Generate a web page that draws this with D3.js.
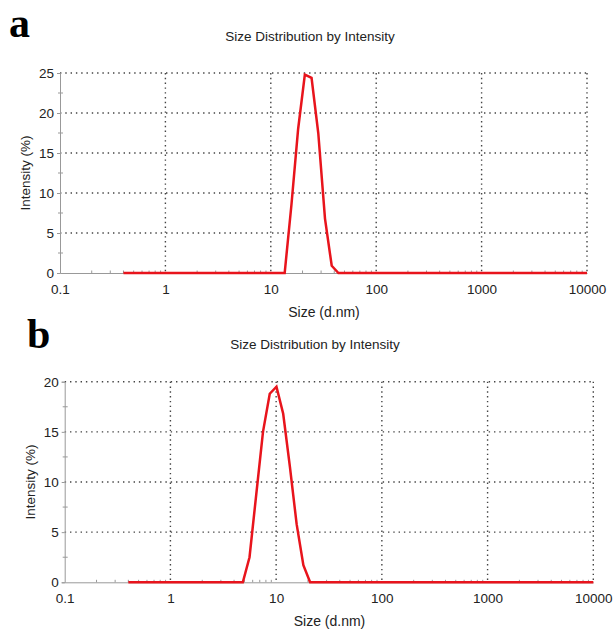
<!DOCTYPE html>
<html>
<head>
<meta charset="utf-8">
<script src="https://cdn.jsdelivr.net/npm/d3@7"></script>
<style>
  body { margin: 0; background: #fff; }
  svg text { font-family: "Liberation Sans", Arial, sans-serif; fill: #222; }
  .panel-letter { font-family: "Liberation Serif", "Times New Roman", serif; font-weight: bold; fill: #000; }
</style>
</head>
<body>
<svg id="chart" width="614" height="630"></svg>
<script>
// Sample a: size (d.nm) vs intensity (%)
const sizesA = [0.4, 13.54, 15.69, 18.17, 21.04, 24.36, 28.21, 32.67, 37.84, 43.82, 10000];
const intensityA = [0, 0, 8.5, 18.0, 24.8, 24.4, 17.5, 6.8, 0.9, 0, 0];

// Sample b
const sizesB = [0.4, 4.84, 5.60, 6.49, 7.51, 8.70, 10.07, 11.66, 13.50, 15.63, 18.10, 20.96, 10000];
const intensityB = [0, 0, 2.5, 8.8, 15.0, 18.8, 19.5, 16.8, 11.5, 5.8, 1.7, 0, 0];

const xTicks = [0.1, 1, 10, 100, 1000, 10000];
const yTicksA = [0, 5, 10, 15, 20, 25];
const yTicksB = [0, 5, 10, 15, 20];

const chartTitle = "Size Distribution by Intensity";

const svg = d3.select("#chart");
svg.append("rect").attr("width", 614).attr("height", 630).attr("fill", "#fff");

function drawPanel(cfg) {
  const x = d3.scaleLog().domain([0.1, 10000]).range([cfg.left, cfg.right]);
  const y = d3.scaleLinear().domain([0, cfg.yMax]).range([cfg.bottom, cfg.top]);
  const g = svg.append("g");

  // dotted grid
  g.selectAll(".hgrid").data(cfg.yTicks.filter(d => d > 0)).join("line")
    .attr("x1", cfg.left).attr("x2", cfg.right)
    .attr("y1", d => y(d)).attr("y2", d => y(d))
    .attr("stroke", "#444").attr("stroke-width", 1.4)
    .attr("stroke-dasharray", "1.4,3.9");
  g.selectAll(".vgrid").data(xTicks.slice(1)).join("line")
    .attr("x1", d => x(d)).attr("x2", d => x(d))
    .attr("y1", cfg.top).attr("y2", cfg.bottom)
    .attr("stroke", "#444").attr("stroke-width", 1.4)
    .attr("stroke-dasharray", "1.4,3.4");

  // x axis
  const minor = [];
  for (let dec = 0.1; dec < 10000; dec *= 10)
    for (let m = 2; m <= 9; m++) minor.push(dec * m);
  const xAxis = d3.axisBottom(x).tickValues(xTicks)
    .tickFormat(d3.format("")).tickSize(0).tickPadding(11);
  const xg = g.append("g").attr("transform", `translate(0,${cfg.bottom})`).call(xAxis);
  xg.select(".domain").attr("stroke", "#999");
  xg.selectAll("text").style("font-size", "13.5px")
    .style("font-family", "\"Liberation Sans\", Arial, sans-serif").attr("fill", "#222");
  g.selectAll(".xminor").data(minor).join("line")
    .attr("x1", d => x(d)).attr("x2", d => x(d))
    .attr("y1", cfg.bottom - 2.5).attr("y2", cfg.bottom)
    .attr("stroke", "#999");

  // y axis
  const yAxis = d3.axisLeft(y).tickValues(cfg.yTicks).tickSize(3).tickPadding(3);
  const yg = g.append("g").attr("transform", `translate(${cfg.left},0)`).call(yAxis);
  yg.select(".domain").attr("stroke", "#999");
  yg.selectAll(".tick line").attr("stroke", "#999");
  yg.selectAll("text").style("font-size", "13.5px")
    .style("font-family", "\"Liberation Sans\", Arial, sans-serif").attr("fill", "#222");
  const yMinor = cfg.yTicks.slice(1).map(d => d - 2.5);
  g.selectAll(".yminor").data(yMinor).join("line")
    .attr("x1", cfg.left - 2).attr("x2", cfg.left + 3)
    .attr("y1", d => y(d)).attr("y2", d => y(d))
    .attr("stroke", "#999");

  // data line
  const pts = cfg.sizes.map((s, i) => [s, cfg.values[i]]);
  g.append("path").datum(pts)
    .attr("fill", "none").attr("stroke", "#e8141c").attr("stroke-width", 2.5)
    .attr("stroke-linejoin", "miter")
    .attr("d", d3.line().x(d => x(d[0])).y(d => y(d[1])));

  // labels
  g.append("text").attr("x", cfg.titleX).attr("y", cfg.titleY)
    .attr("text-anchor", "middle").style("font-size", "13.5px").text(chartTitle);
  g.append("text").attr("x", (cfg.left + cfg.right) / 2 + 0.5).attr("y", cfg.bottom + 44)
    .attr("text-anchor", "middle").style("font-size", "14px").text("Size (d.nm)");
  g.append("text")
    .attr("transform", `translate(${cfg.yLabelX},${(cfg.top + cfg.bottom) / 2}) rotate(-90)`)
    .attr("text-anchor", "middle").style("font-size", "13.5px").text("Intensity (%)");
  g.append("text").attr("class", "panel-letter")
    .attr("x", cfg.letterX).attr("y", cfg.letterY)
    .style("font-size", "42px").text(cfg.letter);
}

drawPanel({
  letter: "a", letterX: 9, letterY: 37,
  left: 60, right: 587, top: 73, bottom: 273, yMax: 25, yTicks: yTicksA,
  titleX: 310, titleY: 41, yLabelX: 30,
  sizes: sizesA, values: intensityA
});

drawPanel({
  letter: "b", letterX: 27, letterY: 348,
  left: 64.7, right: 593.3, top: 381.7, bottom: 582.3, yMax: 20, yTicks: yTicksB,
  titleX: 315, titleY: 349, yLabelX: 35,
  sizes: sizesB, values: intensityB
});
</script>
</body>
</html>
